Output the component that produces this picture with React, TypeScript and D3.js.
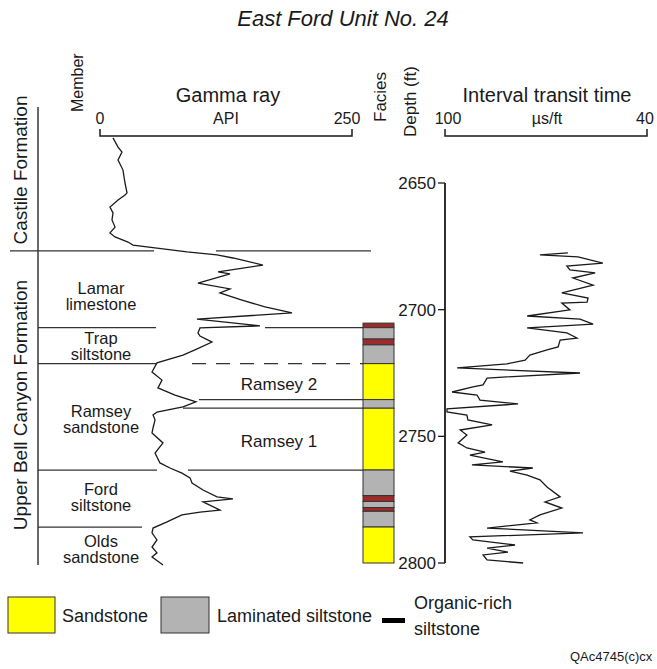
import React from 'react';
import * as d3 from 'd3';

// gamma ray log: [depth ft, API]
const gammaRay: [number, number][] = [
  [2632.2, 12.9], [2635.8, 17.9], [2637.8, 21.8], [2640.9, 17.9], [2644.9, 22.8],
  [2650.0, 24.8], [2653.9, 26.8], [2654.7, 24.8], [2656.7, 17.9], [2659.5, 9.9],
  [2661.8, 12.9], [2664.6, 11.9], [2667.4, 14.9], [2669.7, 9.9], [2671.3, 14.9],
  [2673.3, 27.8], [2674.5, 32.7], [2675.7, 56.5], [2677.2, 86.3], [2678.4, 116.1],
  [2679.6, 131.9], [2682.4, 161.7], [2685.1, 117.1], [2685.9, 129.0], [2689.5, 97.2],
  [2691.8, 129.0], [2693.4, 119.0], [2696.2, 140.9], [2698.9, 163.7], [2701.3, 190.5],
  [2703.7, 96.2], [2706.4, 158.7], [2707.2, 99.2], [2709.2, 97.2], [2710.4, 99.2],
  [2712.8, 111.1], [2715.9, 94.2], [2717.9, 82.3], [2721.0, 56.5], [2724.6, 51.6],
  [2727.8, 61.5], [2730.9, 57.5], [2733.7, 74.4], [2736.4, 95.2], [2738.4, 82.3],
  [2740.4, 56.5], [2741.6, 52.6], [2743.5, 54.6], [2746.7, 52.6], [2748.7, 51.6],
  [2752.6, 62.5], [2756.6, 54.6], [2760.5, 59.5], [2762.5, 69.4], [2764.5, 81.3],
  [2766.4, 89.3], [2768.4, 91.3], [2771.2, 102.2], [2773.9, 116.1], [2774.7, 131.9],
  [2775.9, 102.2], [2779.1, 119.0], [2779.9, 99.2], [2781.0, 81.3], [2783.8, 66.5],
  [2786.2, 52.6], [2788.1, 51.6], [2790.9, 56.5], [2793.7, 51.6], [2796.0, 56.5],
  [2797.6, 51.6], [2800.8, 62.5],
];

// interval transit time log: [depth ft, us/ft]
const transitTime: [number, number][] = [
  [2677.6, 63.5], [2678.4, 71.8], [2679.2, 60.5], [2681.6, 53.1], [2682.8, 63.8],
  [2684.3, 62.9], [2685.5, 55.4], [2687.5, 62.0], [2690.3, 56.0], [2693.4, 65.3],
  [2695.4, 57.5], [2697.0, 57.8], [2697.4, 65.3], [2700.1, 62.9], [2702.5, 75.6],
  [2703.7, 59.9], [2705.7, 56.0], [2707.2, 75.6], [2709.2, 63.8], [2711.2, 60.8],
  [2712.0, 65.8], [2714.7, 66.4], [2715.9, 69.7], [2717.9, 74.8], [2719.9, 76.2],
  [2721.4, 81.6], [2723.0, 96.4], [2725.0, 59.9], [2726.6, 82.8], [2727.0, 87.5],
  [2729.7, 88.7], [2730.5, 91.7], [2732.5, 97.9], [2733.7, 90.5], [2735.7, 89.6],
  [2737.2, 78.3], [2739.2, 99.4], [2740.4, 99.4], [2741.6, 93.5], [2743.5, 93.2],
  [2745.5, 86.0], [2747.5, 95.5], [2749.5, 93.5], [2752.6, 96.1], [2754.6, 93.5],
  [2756.2, 88.1], [2757.4, 92.6], [2760.1, 82.8], [2761.3, 92.0], [2762.5, 73.9],
  [2763.7, 80.7], [2765.3, 75.6], [2767.2, 71.8], [2770.0, 69.7], [2773.9, 65.8],
  [2775.9, 70.3], [2778.3, 65.3], [2781.0, 71.8], [2783.0, 74.8], [2784.2, 72.7],
  [2786.2, 87.5], [2788.1, 59.0], [2789.7, 92.6], [2790.9, 91.7], [2792.9, 79.2],
  [2794.1, 87.5], [2795.7, 81.3], [2796.8, 88.7], [2798.8, 87.5], [2800.0, 76.8],
];

// facies column: [top, bottom, type]
const facies: [number, number, string][] = [
  [2705.3, 2707.1, 'organic'], [2707.1, 2711.6, 'silt'], [2711.6, 2713.9, 'organic'],
  [2713.9, 2721.3, 'silt'], [2721.3, 2735.5, 'sand'], [2735.5, 2738.9, 'silt'],
  [2738.9, 2763.3, 'sand'], [2763.3, 2773.4, 'silt'], [2773.4, 2775.7, 'organic'],
  [2775.7, 2778.1, 'silt'], [2778.1, 2779.6, 'organic'], [2779.6, 2785.8, 'silt'],
  [2785.8, 2800, 'sand'],
];
const faciesColor: Record<string, string> = { sand: '#ffff00', silt: '#b3b3b3', organic: '#9e2a2b' };

// member boundaries: depth + drawn x-segments
const boundaries: { depth: number; segs: [number, number][]; dashed?: [number, number] }[] = [
  { depth: 2676.8, segs: [[10, 154], [216, 371]] },
  { depth: 2707.1, segs: [[38, 156], [265, 363]] },
  { depth: 2721.3, segs: [[38, 156]], dashed: [192, 363] },
  { depth: 2735.5, segs: [[199, 363]] },
  { depth: 2738.9, segs: [[183, 363]] },
  { depth: 2763.3, segs: [[38, 157], [188, 363]] },
  { depth: 2785.8, segs: [[38, 142]] },
];

// depth = centre of the first text line
const memberLabels: { lines: string[]; depth: number }[] = [
  { lines: ['Lamar', 'limestone'], depth: 2691.4 },
  { lines: ['Trap', 'siltstone'], depth: 2711.2 },
  { lines: ['Ramsey', 'sandstone'], depth: 2740.0 },
  { lines: ['Ford', 'siltstone'], depth: 2770.8 },
  { lines: ['Olds', 'sandstone'], depth: 2791.3 },
];
const unitLabels = [
  { text: 'Ramsey 2', depth: 2729.5 },
  { text: 'Ramsey 1', depth: 2751.8 },
];
const depthTicks = [2650, 2700, 2750, 2800];

const FONT = '"Liberation Sans", Arial, sans-serif';
const INK = '#1a1a1a';

export default function App() {
  const y = d3.scaleLinear().domain([2650, 2800]).range([183, 563]);
  const gx = d3.scaleLinear().domain([0, 250]).range([100, 352]);
  const tx = d3.scaleLinear().domain([100, 40]).range([445, 647]);

  const grLine = d3.line<[number, number]>().x(d => gx(d[1])).y(d => y(d[0]));
  const dtLine = d3.line<[number, number]>().x(d => tx(d[1])).y(d => y(d[0]));

  return (
    <svg width={657} height={669} style={{ position: 'absolute', left: 0, top: 0, background: '#fff' }}
      fontFamily={FONT} fill={INK}>
      <text x={343} y={26} fontSize={22} fontStyle="italic" textAnchor="middle">East Ford Unit No. 24</text>

      {/* column headers */}
      <text transform="translate(83,112) rotate(-90)" fontSize={16}>Member</text>
      <text transform="translate(386,122) rotate(-90)" fontSize={17}>Facies</text>
      <text transform="translate(416,137) rotate(-90)" fontSize={17}>Depth (ft)</text>

      <text x={228} y={102} fontSize={20} textAnchor="middle">Gamma ray</text>
      <text x={gx(0)} y={124} fontSize={16} textAnchor="middle">0</text>
      <text x={226} y={124} fontSize={16} textAnchor="middle">API</text>
      <text x={347} y={124} fontSize={16} textAnchor="middle">250</text>
      <path d={`M${gx(0)},129V136H${gx(250)}V129`} fill="none" stroke={INK} strokeWidth={1.5} />

      <text x={547} y={102} fontSize={20} textAnchor="middle">Interval transit time</text>
      <text x={448} y={124} fontSize={16} textAnchor="middle">100</text>
      <text x={547} y={124} fontSize={16} textAnchor="middle">µs/ft</text>
      <text x={645} y={124} fontSize={16} textAnchor="middle">40</text>
      <path d={`M${tx(100)},129V136H${tx(40)}V129`} fill="none" stroke={INK} strokeWidth={1.5} />

      {/* formation labels */}
      <text transform="translate(27,170) rotate(-90)" fontSize={19} textAnchor="middle">Castile Formation</text>
      <text transform="translate(27,405) rotate(-90)" fontSize={19} textAnchor="middle">Upper Bell Canyon Formation</text>
      <line x1={38} x2={38} y1={107} y2={565} stroke={INK} strokeWidth={1.3} />

      {/* boundaries */}
      {boundaries.map((b, i) => (
        <g key={i} stroke="#333" strokeWidth={1.2}>
          {b.segs.map((s, j) => <line key={j} x1={s[0]} x2={s[1]} y1={y(b.depth)} y2={y(b.depth)} />)}
          {b.dashed && <line x1={b.dashed[0]} x2={b.dashed[1]} y1={y(b.depth)} y2={y(b.depth)} strokeDasharray="14,10" />}
        </g>
      ))}

      {memberLabels.map((m, i) => (
        <g key={i} fontSize={16.5} textAnchor="middle">
          <text x={101} y={y(m.depth) + 6}>{m.lines[0]}</text>
          <text x={101} y={y(m.depth) + 22}>{m.lines[1]}</text>
        </g>
      ))}
      {unitLabels.map((u, i) => (
        <text key={i} x={279} y={y(u.depth) + 6} fontSize={17} textAnchor="middle">{u.text}</text>
      ))}

      {/* facies column */}
      {facies.map((f, i) => (
        <rect key={i} x={363} width={31} y={y(f[0])} height={y(f[1]) - y(f[0])}
          fill={faciesColor[f[2]]} stroke="#333" strokeWidth={1} />
      ))}

      {/* depth axis */}
      <line x1={445} x2={445} y1={y(2650)} y2={y(2800)} stroke={INK} strokeWidth={1.8} />
      {depthTicks.map(t => (
        <g key={t}>
          <line x1={438} x2={445} y1={y(t)} y2={y(t)} stroke={INK} strokeWidth={1.3} />
          <text x={436} y={y(t)} dy="0.36em" fontSize={17} textAnchor="end">{t}</text>
        </g>
      ))}

      {/* logs */}
      <path d={grLine(gammaRay) ?? ''} fill="none" stroke={INK} strokeWidth={1.3} />
      <path d={dtLine(transitTime) ?? ''} fill="none" stroke={INK} strokeWidth={1.3} />

      {/* legend */}
      <rect x={8} y={597} width={47} height={36} fill="#ffff00" stroke="#333" strokeWidth={1} />
      <text x={62} y={622} fontSize={18}>Sandstone</text>
      <rect x={161} y={597} width={48} height={36} fill="#b3b3b3" stroke="#333" strokeWidth={1} />
      <text x={217} y={622} fontSize={18}>Laminated siltstone</text>
      <rect x={382} y={618} width={23} height={5} fill="#000" />
      <text x={414} y={609} fontSize={18}>Organic-rich</text>
      <text x={414} y={635} fontSize={18}>siltstone</text>
      <text x={570} y={661} fontSize={13}>QAc4745(c)cx</text>
    </svg>
  );
}
